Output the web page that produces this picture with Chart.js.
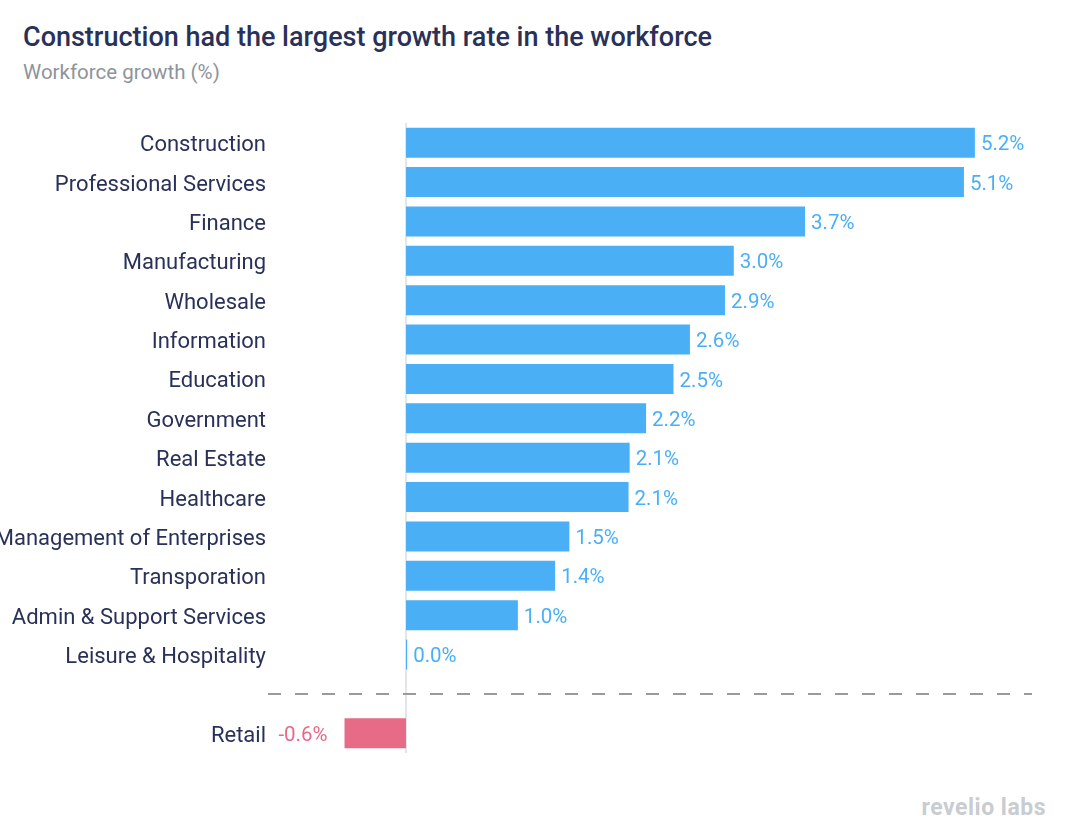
<!DOCTYPE html>
<html>
<head>
<meta charset="utf-8">
<script src="https://cdn.jsdelivr.net/npm/chart.js@4"></script>
<style>
    body { margin: 0; background: #fff; width: 1066px; height: 838px; position: relative; overflow: hidden; font-family: Roboto, sans-serif; }
    #title { position: absolute; left: 23px; top: 21px; font-size: 27px; font-weight: 500; color: #2a3158; }
    #subtitle { position: absolute; left: 23px; top: 60px; font-size: 20.5px; color: #8d949b; }
    #logo { position: absolute; right: 20px; top: 794px; font-size: 23px; font-weight: 700; color: #c9ccd0; letter-spacing: 0.5px; }
    #wrap { position: absolute; left: 0; top: 100px; width: 1066px; height: 680px; }
</style>
</head>
<body>
<div id="title">Construction had the largest growth rate in the workforce</div>
<div id="subtitle">Workforce growth (%)</div>
<div id="logo">revelio labs</div>
<div id="wrap"><canvas id="chart"></canvas></div>
<script>
const categories = [
    "Construction", "Professional Services", "Finance", "Manufacturing", "Wholesale",
    "Information", "Education", "Government", "Real Estate", "Healthcare",
    "Management of Enterprises", "Transporation", "Admin & Support Services",
    "Leisure & Hospitality", "", "Retail"
];
const growth = [5.2, 5.1, 3.65, 3.0, 2.92, 2.6, 2.45, 2.2, 2.05, 2.04, 1.5, 1.37, 1.03, 0.02, null, -0.57];
const shownLabels = ["5.2%", "5.1%", "3.7%", "3.0%", "2.9%", "2.6%", "2.5%", "2.2%", "2.1%", "2.1%", "1.5%", "1.4%", "1.0%", "0.0%", "", "-0.6%"];
const separatorAfter = "Leisure & Hospitality";

const blue = "#4aaff5";
const pink = "#e76a87";

const extras = {
    id: "extras",
    beforeDatasetsDraw(chart) {
        const { ctx, chartArea, scales } = chart;
        const x0 = scales.x.getPixelForValue(0);
        ctx.save();
        ctx.strokeStyle = "#e3e5e8";
        ctx.lineWidth = 2;
        ctx.beginPath();
        ctx.moveTo(x0, chartArea.top);
        ctx.lineTo(x0, chartArea.bottom);
        ctx.stroke();

        const sepY = scales.y.getPixelForValue(categories.indexOf(separatorAfter) + 1);
        ctx.strokeStyle = "#9a9a9a";
        ctx.setLineDash([13, 14]);
        ctx.beginPath();
        ctx.moveTo(chartArea.left, sepY);
        ctx.lineTo(chartArea.right, sepY);
        ctx.stroke();
        ctx.restore();
    },
    afterDatasetsDraw(chart) {
        const { ctx } = chart;
        const meta = chart.getDatasetMeta(0);
        ctx.save();
        ctx.font = "20.5px Roboto";
        ctx.textBaseline = "middle";
        meta.data.forEach((bar, i) => {
            const v = growth[i];
            if (v === null) return;
            if (v < 0) {
                ctx.fillStyle = pink;
                ctx.textAlign = "right";
                ctx.fillText(shownLabels[i], bar.x - 16, bar.y + 2.5);
            } else {
                ctx.fillStyle = blue;
                ctx.textAlign = "left";
                ctx.fillText(shownLabels[i], bar.x + 5, bar.y + 2.5);
            }
        });
        ctx.restore();
    }
};

new Chart(document.getElementById("chart"), {
    type: "bar",
    data: {
        labels: categories,
        datasets: [{
            data: growth,
            backgroundColor: growth.map(v => v < 0 ? pink : blue),
            borderColor: "rgba(255,255,255,0.5)",
            borderWidth: 1,
            barPercentage: 0.81,
            categoryPercentage: 1
        }]
    },
    options: {
        indexAxis: "y",
        responsive: true,
        maintainAspectRatio: false,
        animation: false,
        layout: { padding: { top: 23, bottom: 27, left: 0, right: 34 } },
        plugins: {
            legend: { display: false },
            tooltip: { enabled: false }
        },
        scales: {
            x: {
                min: -1.259,
                max: 5.712,
                display: false
            },
            y: {
                grid: { display: false, drawTicks: false },
                border: { display: false },
                afterFit: scale => { scale.width = 268; },
                ticks: {
                    padding: 2,
                    labelOffset: 3,
                    color: "#2a3158",
                    font: { family: "Roboto", size: 22 },
                    autoSkip: false
                }
            }
        }
    },
    plugins: [extras]
});
</script>
</body>
</html>
